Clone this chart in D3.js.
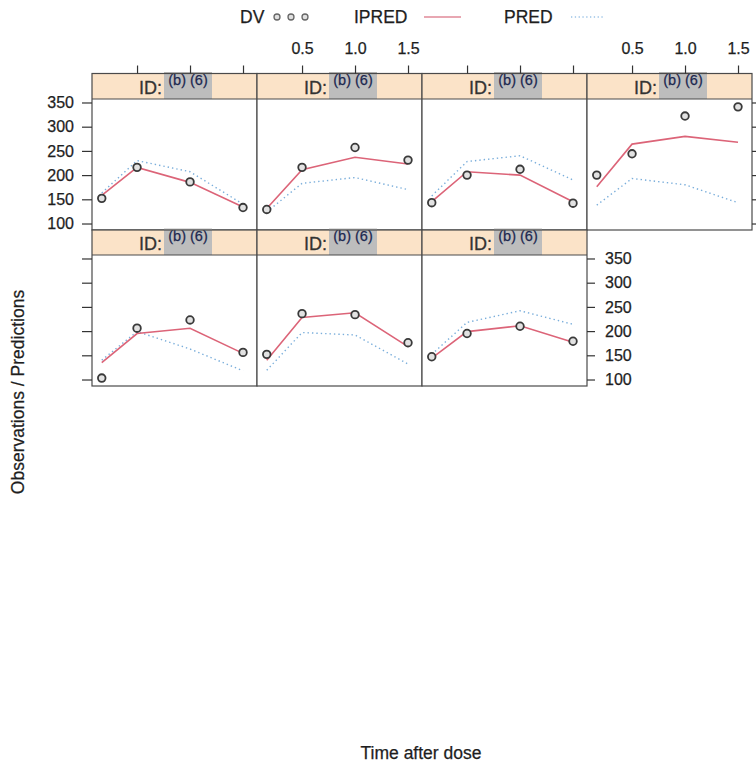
<!DOCTYPE html>
<html>
<head>
<meta charset="utf-8">
<script src="https://cdn.jsdelivr.net/npm/d3@7"></script>
<style>
  html, body { margin: 0; padding: 0; background: #fff; }
  svg { display: block; font-family: "Liberation Sans", Arial, sans-serif; }
</style>
</head>
<body>
<svg id="chart" width="756" height="765"></svg>
<script>
// Sampling times (h) shared by every subject
const times = [0.167, 0.5, 1.0, 1.5];

// Observed concentrations per subject panel
const dv1 = [152, 216, 186, 133];
const dv2 = [129, 216, 257, 231];
const dv3 = [143, 200, 212, 142];
const dv4 = [200, 244, 322, 341];
const dv5 = [103, 206, 223, 156];
const dv6 = [152, 236, 234, 176];
const dv7 = [147, 195, 210, 179];

// Individual predictions
const ipred1 = [158, 216, 185, 134];
const ipred2 = [131, 211, 237, 223];
const ipred3 = [145, 207, 200, 145];
const ipred4 = [176, 264, 280, 268];
const ipred5 = [135, 195, 206, 154];
const ipred6 = [140, 228, 238, 168];
const ipred7 = [144, 199, 211, 177];

// Population predictions
const pred1 = [163, 230, 207, 140];
const pred2 = [124, 183, 195, 170];
const pred3 = [157, 228, 240, 190];
const pred4 = [138, 193, 180, 143];
const pred5 = [140, 199, 163, 118];
const pred6 = [119, 197, 192, 132];
const pred7 = [152, 218, 242, 214];

const xTicks = [0.5, 1.0, 1.5];
const xTickLabels = ["0.5", "1.0", "1.5"];
const yTicks = [100, 150, 200, 250, 300, 350];
const yTickLabels = ["100", "150", "200", "250", "300", "350"];

const stripPrefix = "ID:";
const stripRedaction = "(b) (6)";
const legendNames = ["DV", "IPRED", "PRED"];
const xTitle = "Time after dose";
const yTitle = "Observations / Predictions";

const dvAll = [dv1, dv2, dv3, dv4, dv5, dv6, dv7];
const ipredAll = [ipred1, ipred2, ipred3, ipred4, ipred5, ipred6, ipred7];
const predAll = [pred1, pred2, pred3, pred4, pred5, pred6, pred7];

// ---- layout ----
const nCol = 4;
const panelLeft = 92, panelW = 165;
const rows = [
  { stripTop: 73.5, plotTop: 99, plotBottom: 230 },
  { stripTop: 230, plotTop: 255, plotBottom: 386 }
];
const xDomain = [0.075, 1.632];
const yDomain = [86.6, 357.2];

const COL_IPRED = "#dc6478";
const COL_PRED = "#7aaedb";
const COL_DV = "#3a3a3a";
const COL_STRIP = "#fbe3c8";
const COL_BORDER = "#4a4a4a";
const COL_TEXT = "#1e1e1e";

const svg = d3.select("#chart");

const panels = dvAll.map((dv, i) => ({
  i, row: Math.floor(i / nCol), col: i % nCol,
  dv, ipred: ipredAll[i], pred: predAll[i]
}));

panels.forEach(p => {
  const r = rows[p.row];
  const x0 = panelLeft + p.col * panelW;
  p.x = d3.scaleLinear().domain(xDomain).range([x0, x0 + panelW]);
  p.y = d3.scaleLinear().domain(yDomain).range([r.plotBottom, r.plotTop]);
  p.x0 = x0; p.r = r;
});

const gPanels = svg.append("g");

panels.forEach(p => {
  const g = gPanels.append("g");
  const r = p.r;
  // strip
  g.append("rect")
    .attr("x", p.x0).attr("y", r.stripTop)
    .attr("width", panelW).attr("height", r.plotTop - r.stripTop)
    .attr("fill", COL_STRIP);
  g.append("text")
    .attr("x", p.x0 + 47).attr("y", r.plotTop - 5)
    .attr("font-size", 18).attr("fill", "#333")
    .attr("stroke", "#333").attr("stroke-width", 0.3)
    .text(stripPrefix);
  g.append("rect")
    .attr("x", p.x0 + 72).attr("y", r.stripTop - 1.5)
    .attr("width", 48).attr("height", r.plotTop - r.stripTop + 1.5)
    .attr("fill", "#bdbdbd");
  g.append("text")
    .attr("x", p.x0 + 96).attr("y", r.stripTop + 11)
    .attr("text-anchor", "middle")
    .attr("font-size", 14.5).attr("fill", "#1c2850")
    .attr("stroke", "#1c2850").attr("stroke-width", 0.25)
    .text(stripRedaction);

  // plot background
  g.append("rect")
    .attr("x", p.x0).attr("y", r.plotTop)
    .attr("width", panelW).attr("height", r.plotBottom - r.plotTop)
    .attr("fill", "#fff");

  const idx = d3.range(times.length);
  const predLine = d3.line().x(k => p.x(times[k])).y(k => p.y(p.pred[k]));
  const ipredLine = d3.line().x(k => p.x(times[k])).y(k => p.y(p.ipred[k]));

  g.append("path").attr("d", predLine(idx))
    .attr("fill", "none").attr("stroke", COL_PRED)
    .attr("stroke-width", 1.4).attr("stroke-dasharray", "1.4,3");
  g.append("path").attr("d", ipredLine(idx))
    .attr("fill", "none").attr("stroke", COL_IPRED)
    .attr("stroke-width", 1.6);
  g.selectAll("circle.dv").data(idx).join("circle")
    .attr("class", "dv")
    .attr("cx", k => p.x(times[k])).attr("cy", k => p.y(p.dv[k]))
    .attr("r", 3.8)
    .attr("fill", "#e2e2e2").attr("stroke", COL_DV).attr("stroke-width", 1.8);

  // borders
  g.append("rect")
    .attr("x", p.x0).attr("y", r.stripTop)
    .attr("width", panelW).attr("height", r.plotBottom - r.stripTop)
    .attr("fill", "none").attr("stroke", COL_BORDER).attr("stroke-width", 1.2);
  g.append("line")
    .attr("x1", p.x0).attr("x2", p.x0 + panelW)
    .attr("y1", r.plotTop).attr("y2", r.plotTop)
    .attr("stroke", COL_BORDER).attr("stroke-width", 1.2);
});

// ---- axes ----
const axG = svg.append("g").attr("fill", COL_TEXT);
function styleAxis(sel) {
  sel.select(".domain").remove();
  sel.selectAll(".tick line").attr("stroke", "#333").attr("stroke-width", 1.2);
  sel.selectAll(".tick text").attr("fill", COL_TEXT)
    .attr("stroke", COL_TEXT).attr("stroke-width", 0.25)
    .attr("font-size", 16).attr("font-family", "Liberation Sans, Arial, sans-serif");
}

// top axis on first row, labels alternate onto columns 2 and 4
panels.filter(p => p.row === 0).forEach(p => {
  const labelled = p.col % 2 === 1;
  const ax = d3.axisTop(p.x).tickValues(xTicks).tickSizeOuter(0).tickSize(8).tickPadding(12)
    .tickFormat((d, k) => labelled ? xTickLabels[k] : "");
  axG.append("g").attr("transform", `translate(0,${p.r.stripTop})`).call(ax).call(styleAxis);
});

// left axis: labels on top row only
[0, 1].forEach(ri => {
  const p = panels.find(q => q.row === ri && q.col === 0);
  const ax = d3.axisLeft(p.y).tickValues(yTicks).tickSizeOuter(0).tickSize(10).tickPadding(8)
    .tickFormat((d, k) => ri === 0 ? yTickLabels[k] : "");
  axG.append("g").attr("transform", `translate(${p.x0},0)`).call(ax).call(styleAxis);
});

// right axis: ticks on top row, labels on bottom row
[0, 1].forEach(ri => {
  const rowPanels = panels.filter(q => q.row === ri);
  const p = rowPanels[rowPanels.length - 1];
  const ax = d3.axisRight(p.y).tickValues(yTicks).tickSizeOuter(0).tickSize(8).tickPadding(10)
    .tickFormat((d, k) => ri === 1 ? yTickLabels[k] : "");
  axG.append("g").attr("transform", `translate(${p.x0 + panelW},0)`).call(ax).call(styleAxis);
});

// ---- titles ----
svg.append("text")
  .attr("x", 421).attr("y", 759)
  .attr("text-anchor", "middle").attr("font-size", 17.5).attr("fill", COL_TEXT)
  .attr("stroke", COL_TEXT).attr("stroke-width", 0.25)
  .text(xTitle);
svg.append("text")
  .attr("transform", "translate(24,392) rotate(-90)")
  .attr("text-anchor", "middle").attr("font-size", 17.5).attr("fill", COL_TEXT)
  .attr("stroke", COL_TEXT).attr("stroke-width", 0.25)
  .text(yTitle);

// ---- legend ----
const lg = svg.append("g").attr("font-size", 17.5).attr("fill", COL_TEXT)
  .attr("stroke", COL_TEXT).attr("stroke-width", 0.25);
lg.append("text").attr("x", 240).attr("y", 23).text(legendNames[0]);
[277, 291, 305].forEach(cx => {
  lg.append("circle").attr("cx", cx).attr("cy", 17).attr("r", 3)
    .attr("fill", "#e0e0e0").attr("stroke", "#666").attr("stroke-width", 1.3);
});
lg.append("text").attr("x", 354).attr("y", 23).text(legendNames[1]);
lg.append("line").attr("x1", 424).attr("x2", 461).attr("y1", 17).attr("y2", 17)
  .attr("stroke", "#e08a98").attr("stroke-width", 1.6);
lg.append("text").attr("x", 504).attr("y", 23).text(legendNames[2]);
lg.append("line").attr("x1", 571).attr("x2", 605).attr("y1", 17).attr("y2", 17)
  .attr("stroke", "#9cc3e6").attr("stroke-width", 1.3).attr("stroke-dasharray", "1.3,2.5");
</script>
</body>
</html>
